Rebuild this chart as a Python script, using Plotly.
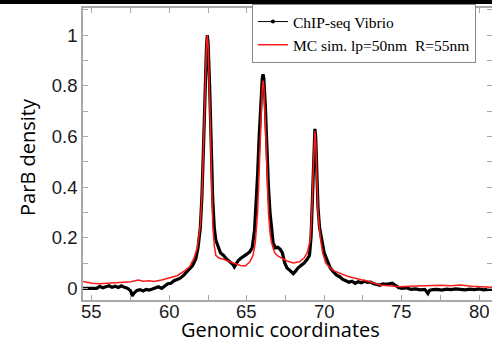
import plotly.graph_objects as go

# ChIP-seq Vibrio (black, noisy)
chip_x = [54.4, 54.7, 55.0, 55.3, 55.5, 55.7, 55.9, 56.1, 56.3, 56.5, 56.7, 56.9, 57.1, 57.3, 57.5, 57.6, 57.7, 57.9,
          58.1, 58.3, 58.5, 58.7, 58.9, 59.1, 59.3, 59.5, 59.7, 59.9, 60.1, 60.3, 60.5, 60.7, 60.9, 61.1, 61.3, 61.5,
          61.7, 61.85, 62.0, 62.1, 62.2, 62.3, 62.4, 62.45, 62.5, 62.6, 62.7, 62.8, 62.9, 63.0, 63.15, 63.3, 63.5,
          63.7, 63.9, 64.1, 64.2, 64.3, 64.45, 64.6, 64.8, 65.0, 65.2, 65.35, 65.5, 65.6, 65.7, 65.8, 65.9, 66.0,
          66.05, 66.1, 66.2, 66.3, 66.4, 66.5, 66.6, 66.7, 66.85, 67.0, 67.15, 67.3, 67.45, 67.6, 67.8, 68.0, 68.15,
          68.3, 68.5, 68.7, 68.9, 69.05, 69.15, 69.25, 69.3, 69.35, 69.4, 69.45, 69.5, 69.6, 69.7, 69.8, 69.9, 70.0,
          70.2, 70.4, 70.6, 70.8, 71.0, 71.2, 71.4, 71.6, 71.8, 72.0, 72.2, 72.4, 72.6, 72.8, 73.0, 73.2, 73.4, 73.6,
          73.8, 74.0, 74.2, 74.4, 74.6, 74.8, 75.0, 75.3, 75.6, 75.9, 76.2, 76.5, 76.7, 76.8, 77.0, 77.3, 77.6, 77.9,
          78.2, 78.5, 78.8, 79.1, 79.4, 79.7, 80.0, 80.3, 80.6, 81.0]
chip_y = [0.0, 0.0, 0.0, 0.0, 0.008, 0.002, 0.006, 0.01, 0.004, 0.008, 0.003, 0.01, 0.004, 0.0, -0.01, -0.03, -0.02, -0.008,
          -0.005, -0.01, -0.004, -0.007, -0.003, 0.002, 0.006, 0.0, 0.01, 0.018, 0.02, 0.03, 0.035, 0.04, 0.05, 0.062, 0.075, 0.09,
          0.115, 0.16, 0.24, 0.36, 0.55, 0.78, 0.96, 1.0, 0.97, 0.8, 0.55, 0.35, 0.24, 0.19, 0.165, 0.14, 0.13,
          0.115, 0.105, 0.095, 0.085, 0.095, 0.11, 0.118, 0.125, 0.135, 0.145, 0.16, 0.23, 0.32, 0.45, 0.6, 0.74, 0.83,
          0.845, 0.83, 0.72, 0.55, 0.4, 0.3, 0.22, 0.18, 0.16, 0.162, 0.155, 0.14, 0.1, 0.08, 0.07, 0.058, 0.068,
          0.08, 0.09, 0.1, 0.115, 0.13, 0.2, 0.38, 0.5, 0.6, 0.63, 0.6, 0.5, 0.32, 0.24, 0.2, 0.17, 0.14,
          0.11, 0.08, 0.065, 0.052, 0.046, 0.035, 0.03, 0.024, 0.028, 0.02, 0.026, 0.022, 0.028, 0.024, 0.025, 0.018, 0.015, 0.012,
          0.018, 0.016, 0.018, 0.02, 0.012, 0.003, 0.0, 0.002, -0.004, -0.002, -0.006, -0.004, -0.02, -0.008, -0.005, -0.004, -0.007, -0.003,
          -0.005, -0.002, -0.004, -0.006, -0.003, -0.005, -0.002, -0.006, -0.004, -0.005]

# MC simulation (red, smooth)
sim_x = [54.4, 55.0, 55.5, 56.0, 56.5, 57.0, 57.5, 58.0, 58.3, 58.7, 59.0, 59.5, 60.0, 60.5, 61.0, 61.3, 61.6, 61.8,
         62.0, 62.1, 62.2, 62.3, 62.4, 62.45, 62.5, 62.6, 62.7, 62.8, 62.9, 63.0, 63.2, 63.5, 63.9, 64.3, 64.6, 64.9,
         65.2, 65.4, 65.55, 65.7, 65.8, 65.9, 66.0, 66.05, 66.1, 66.2, 66.3, 66.4, 66.5, 66.6, 66.8, 67.0, 67.3, 67.6,
         68.0, 68.4, 68.7, 68.9, 69.1, 69.2, 69.3, 69.35, 69.4, 69.45, 69.5, 69.6, 69.75, 69.9, 70.1, 70.3, 70.6, 71.0,
         71.5, 72.0, 72.5, 73.0, 73.6, 74.2, 74.9, 75.5, 76.2, 76.8, 77.5, 78.2, 78.8, 79.5, 80.2, 81.0]
sim_y = [0.027, 0.02, 0.018, 0.02, 0.022, 0.024, 0.026, 0.033, 0.028, 0.03, 0.027, 0.033, 0.04, 0.05, 0.07, 0.085, 0.12, 0.16,
         0.25, 0.36, 0.55, 0.8, 0.97, 1.0, 0.96, 0.75, 0.45, 0.25, 0.17, 0.13, 0.12, 0.115, 0.105, 0.095, 0.09, 0.088,
         0.105, 0.13, 0.18, 0.3, 0.47, 0.65, 0.79, 0.82, 0.8, 0.65, 0.45, 0.3, 0.22, 0.18, 0.14, 0.128, 0.118, 0.108,
         0.1, 0.105, 0.12, 0.14, 0.19, 0.3, 0.48, 0.58, 0.62, 0.58, 0.48, 0.3, 0.2, 0.14, 0.1, 0.085, 0.07, 0.06,
         0.048, 0.04, 0.033, 0.025, 0.013, 0.01, 0.006, 0.008, 0.01, 0.013, 0.012, 0.01, 0.013, 0.008, 0.006, 0.004]

x_ticks = [55, 60, 65, 70, 75, 80]
x_tick_text = ["55", "60", "65", "70", "75", "80"]
y_ticks = [0, 0.2, 0.4, 0.6, 0.8, 1]
y_tick_text = ["0", "0.2", "0.4", "0.6", "0.8", "1"]

fig = go.Figure()
fig.add_trace(go.Scatter(x=chip_x, y=chip_y, mode="lines", line=dict(color="black", width=3.2),
                         showlegend=False))
fig.add_trace(go.Scatter(x=sim_x, y=sim_y, mode="lines", line=dict(color="#ff1a1a", width=1.5),
                         showlegend=False))
# legend entries
fig.add_trace(go.Scatter(x=[None], y=[None], mode="lines+markers", name="ChIP-seq Vibrio",
                         line=dict(color="black", width=1), marker=dict(color="black", size=4)))
fig.add_trace(go.Scatter(x=[None], y=[None], mode="lines", name="MC sim. lp=50nm  R=55nm",
                         line=dict(color="#ff1a1a", width=1.5)))

tick_font = dict(family="Liberation Sans, Arial", size=18.5, color="#1a1a1a")
axis_common = dict(showline=True, linecolor="#a8a8a8", linewidth=1.5, mirror="ticks",
                   ticks="inside", ticklen=5, tickcolor="#a8a8a8", tickwidth=1.2,
                   showgrid=False, zeroline=False, tickfont=tick_font)

fig.update_xaxes(range=[54.42, 80.84], tickvals=x_ticks, showticklabels=False,
                 minor=dict(ticks="inside", ticklen=5, tickcolor="#a8a8a8", dtick=2.5, tick0=55),
                 **axis_common)
fig.update_yaxes(range=[-0.046, 1.107], tickvals=y_ticks, ticktext=y_tick_text,
                 minor=dict(ticks="inside", ticklen=5, tickcolor="#a8a8a8", dtick=0.1, tick0=0),
                 **axis_common)

title_font = dict(family="Open Sans, sans-serif", size=20, color="black")
annotations = [
    dict(text="Genomic coordinates", xref="paper", yref="paper", x=0.4817, y=-0.1027,
         xanchor="center", yanchor="middle", showarrow=False, font=title_font),
    dict(text="ParB density", xref="paper", yref="paper", x=-0.1345, y=0.49, textangle=-90,
         xanchor="center", yanchor="middle", showarrow=False, font=title_font),
]
for v, t in zip(x_ticks, x_tick_text):
    annotations.append(dict(text=t, xref="x", yref="paper", x=v, y=-0.0377,
                            xanchor="center", yanchor="middle", showarrow=False, font=tick_font))

fig.update_layout(
    width=492, height=336,
    margin=dict(l=83, r=0, t=4, b=40, autoexpand=False),
    plot_bgcolor="white", paper_bgcolor="white",
    legend=dict(x=0.413, y=1 + 4 / 292, xanchor="left", yanchor="top",
                bgcolor="white", bordercolor="#888888", borderwidth=1,
                font=dict(family="Liberation Serif, Times New Roman, serif", size=15.5, color="black"),
                tracegroupgap=0, itemwidth=30),
    annotations=annotations,
)

fig.write_html("out.html", config={"displayModeBar": False},
               post_script="document.body.style.margin='0px';"
                           "document.body.style.borderTop='4px solid black';")
